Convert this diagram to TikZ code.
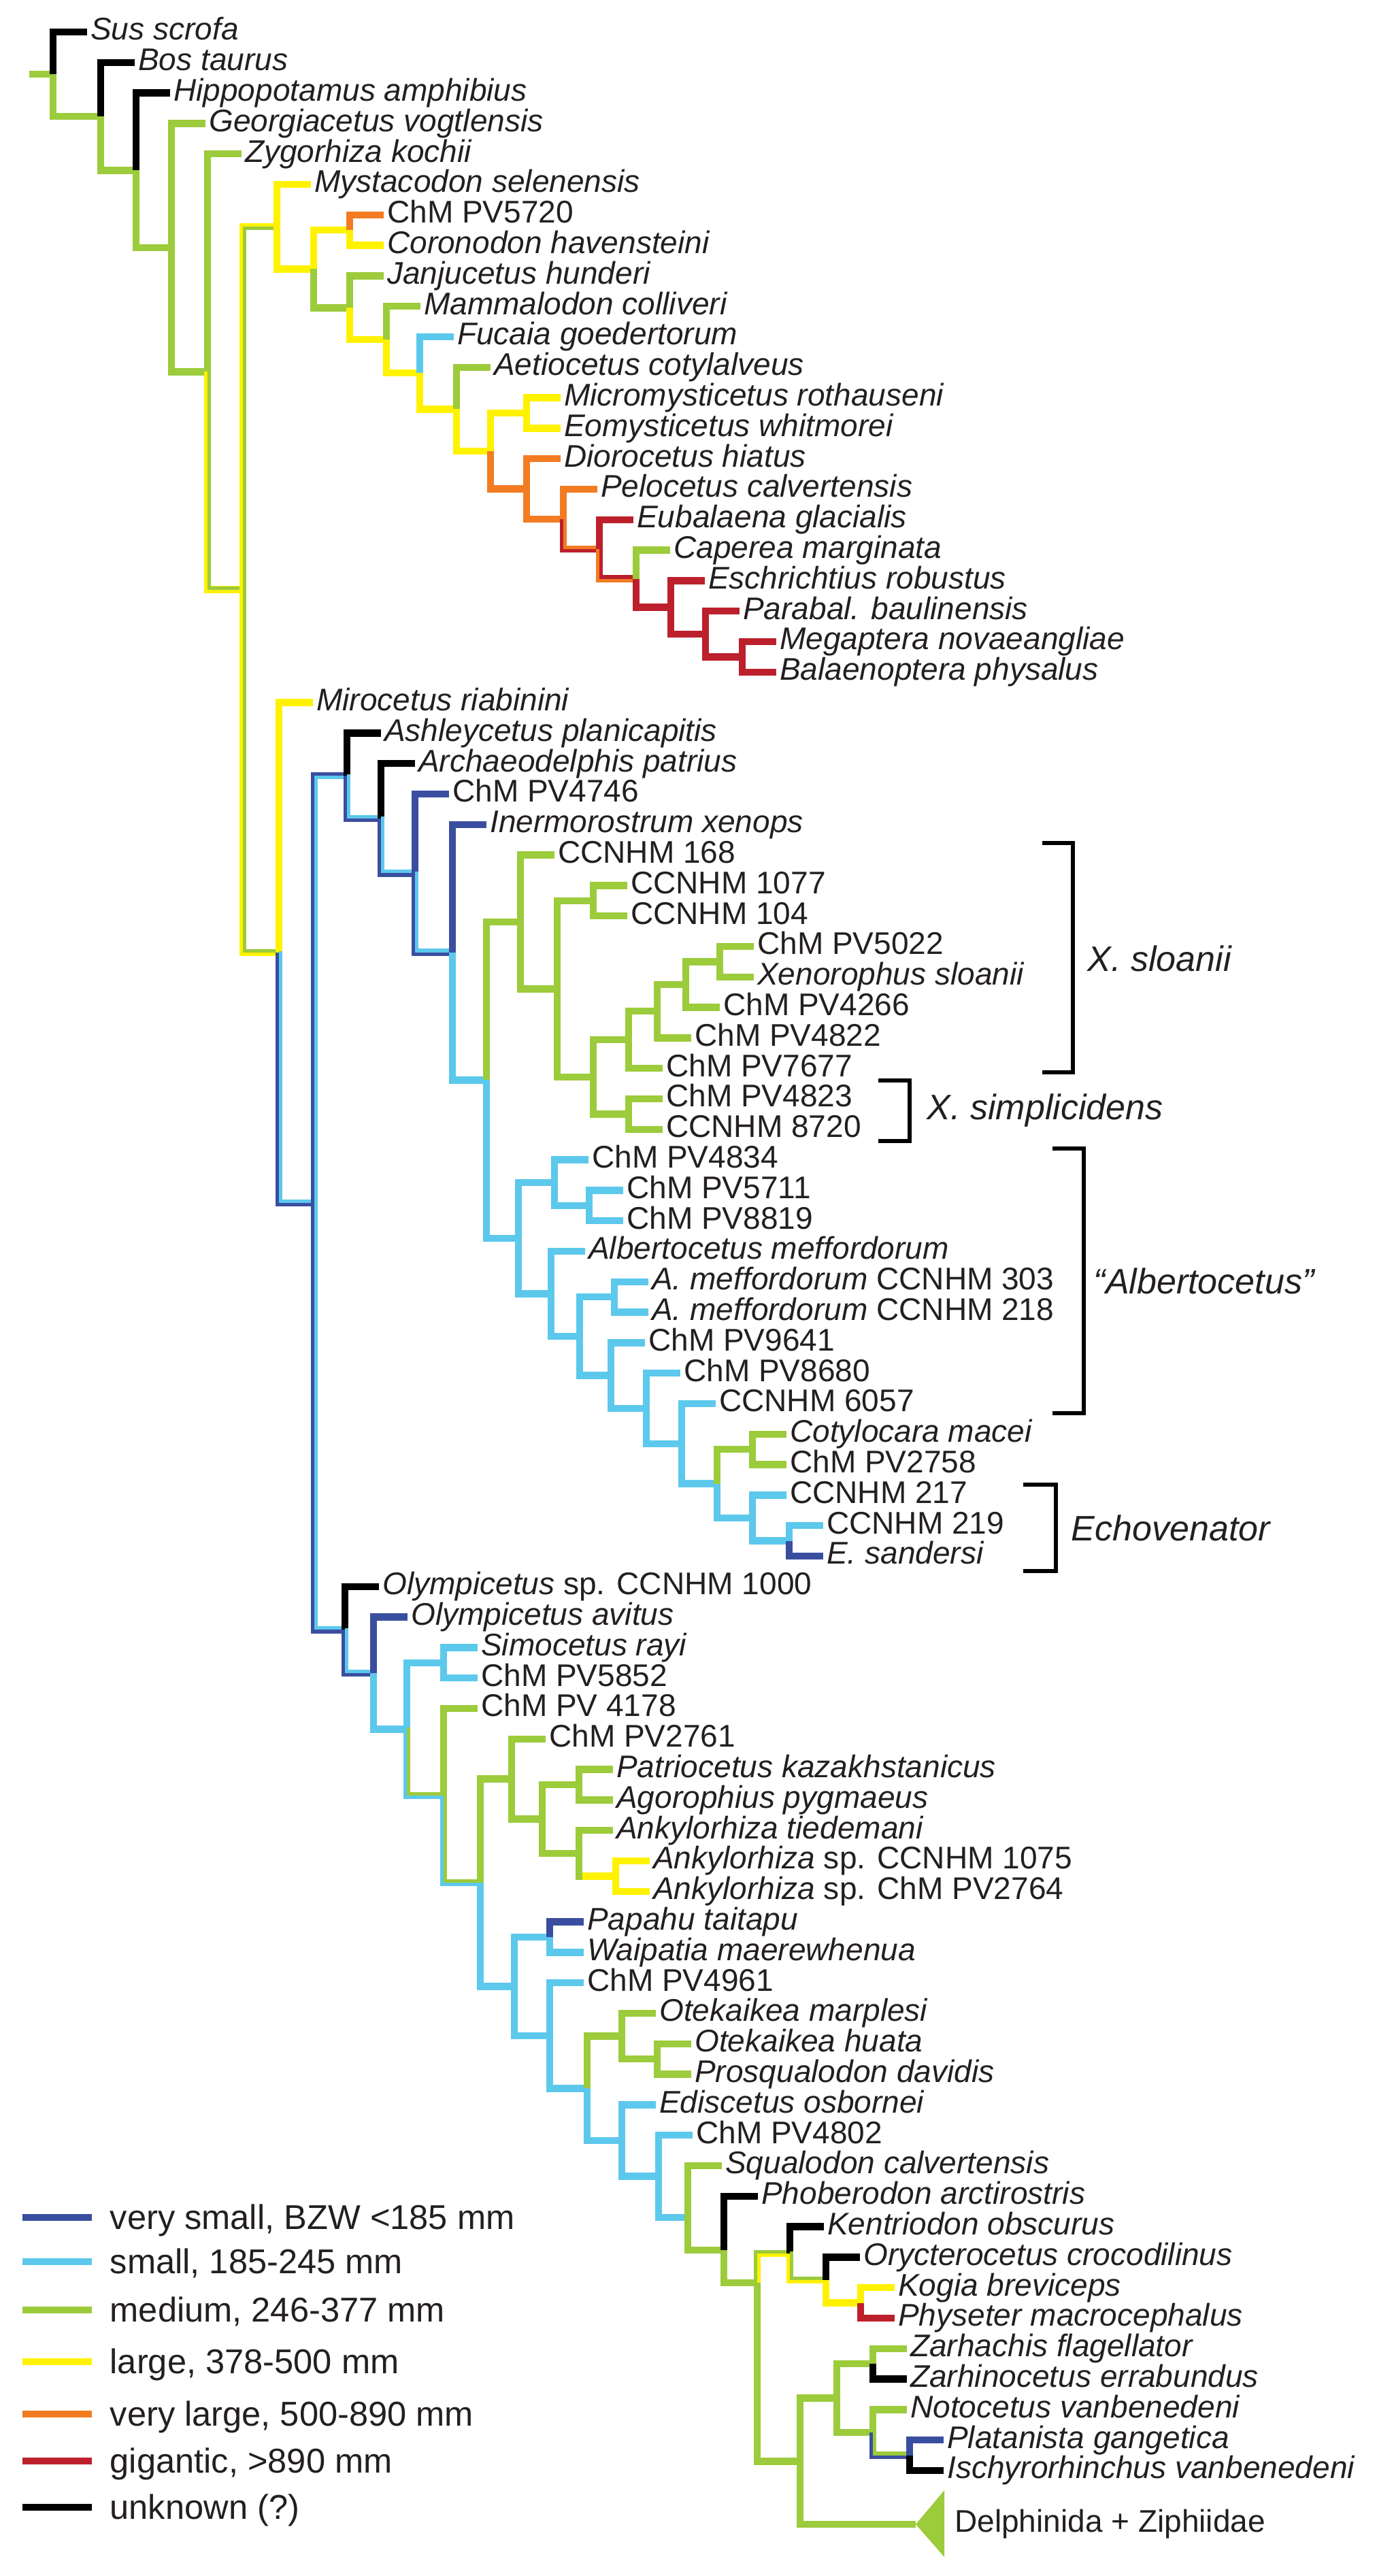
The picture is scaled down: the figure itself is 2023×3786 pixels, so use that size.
\documentclass[tikz,border=0pt]{standalone}
\usepackage{fontspec}
\setmainfont{Liberation Sans}
\definecolor{cdkblue}{RGB}{58,78,160}
\definecolor{cltblue}{RGB}{92,200,236}
\definecolor{cgreen}{RGB}{156,203,59}
\definecolor{cyellow}{RGB}{255,242,0}
\definecolor{corange}{RGB}{243,124,34}
\definecolor{cred}{RGB}{188,32,44}
\definecolor{cblack}{RGB}{0,0,0}
\definecolor{labgray}{RGB}{35,31,32}
\tikzset{
	branch/.style={line width=1.05mm, draw=#1},
	branchB/.style={line width=0.52mm, draw=#1},
	taxon/.style={anchor=west, inner xsep=0.45mm, inner ysep=0pt, text height=3.3mm, text depth=0.92mm, text=labgray, font=\fontsize{13.1}{15}\selectfont},
	cladelabel/.style={anchor=west, inner sep=0pt, text=labgray, font=\fontsize{14.8}{17}\selectfont\itshape},
	bracket/.style={line width=0.6mm, draw=black},
	legline/.style={line width=1mm, draw=#1},
	legtext/.style={anchor=west, inner sep=0pt, text height=3.6mm, text depth=0.2mm, text=labgray, font=\fontsize{14.4}{17}\selectfont},
}
\begin{document}
\begin{tikzpicture}[x=0.1mm,y=-0.1mm]
			\newcommand{\mybranch}[3]{
				\draw[branch=#1] (#2) |- (#3);
			}\newcommand{\myeqbranch}[5][2.6]{
				\draw[branch=#2] (#4) |- (#5);
				\draw[branchB=#3] ([shift={(2.6,#1)}]#4) |- ([shift={(2.6,#1)}]#5);
			}%Page
			\useasboundingbox (0,0) rectangle (2023,3786);
			%Outgroups and basilosaurids
			\node[taxon] (sus) at (128,47) {\textit{Sus scrofa}};
			\node[taxon] (bos) at (198,91.8) {\textit{Bos taurus}};
			\node[taxon] (hippo) at (250,136.6) {\textit{Hippopotamus amphibius}};
			\node[taxon] (georgia) at (302,181.4) {\textit{Georgiacetus vogtlensis}};
			\node[taxon] (zygo) at (355,226.2) {\textit{Zygorhiza kochii}};
			%Mysticeti
			\node[taxon] (mysta) at (457,271) {\textit{Mystacodon selenensis}};
			\node[taxon] (chm5720) at (564,315.8) {ChM PV5720};
			\node[taxon] (corono) at (564,360.6) {\textit{Coronodon havensteini}};
			\node[taxon] (janju) at (564,405.4) {\textit{Janjucetus hunderi}};
			\node[taxon] (mammal) at (618,450.2) {\textit{Mammalodon colliveri}};
			\node[taxon] (fucaia) at (667,495) {\textit{Fucaia goedertorum}};
			\node[taxon] (aetio) at (721,539.8) {\textit{Aetiocetus cotylalveus}};
			\node[taxon] (micro) at (824,584.6) {\textit{Micromysticetus rothauseni}};
			\node[taxon] (eomy) at (824,629.4) {\textit{Eomysticetus whitmorei}};
			\node[taxon] (dioro) at (824,674.2) {\textit{Diorocetus hiatus}};
			\node[taxon] (pelo) at (878,719) {\textit{Pelocetus calvertensis}};
			\node[taxon] (euba) at (931,763.8) {\textit{Eubalaena glacialis}};
			\node[taxon] (caper) at (985,808.6) {\textit{Caperea marginata}};
			\node[taxon] (eschr) at (1036,853.4) {\textit{Eschrichtius robustus}};
			\node[taxon] (parab) at (1087,898.2) {\textit{Parabal. baulinensis}};
			\node[taxon] (megap) at (1141,943) {\textit{Megaptera novaeangliae}};
			\node[taxon] (balae) at (1141,987.8) {\textit{Balaenoptera physalus}};
			%Stem odontocetes
			\node[taxon] (miro) at (460,1032.6) {\textit{Mirocetus riabinini}};
			\node[taxon] (ashley) at (560,1077.4) {\textit{Ashleycetus planicapitis}};
			\node[taxon] (archaeo) at (610,1122.2) {\textit{Archaeodelphis patrius}};
			\node[taxon] (chm4746) at (660,1167) {ChM PV4746};
			\node[taxon] (inermo) at (715,1211.8) {\textit{Inermorostrum xenops}};
			%Xenorophus
			\node[taxon] (cc168) at (815,1256.6) {CCNHM 168};
			\node[taxon] (cc1077) at (922,1301.4) {CCNHM 1077};
			\node[taxon] (cc104) at (922,1346.2) {CCNHM 104};
			\node[taxon] (chm5022) at (1108,1391) {ChM PV5022};
			\node[taxon] (xeno) at (1108,1435.8) {\textit{Xenorophus sloanii}};
			\node[taxon] (chm4266) at (1058,1480.6) {ChM PV4266};
			\node[taxon] (chm4822) at (1016,1525.4) {ChM PV4822};
			\node[taxon] (chm7677) at (974,1570.2) {ChM PV7677};
			\node[taxon] (chm4823) at (974,1615) {ChM PV4823};
			\node[taxon] (cc8720) at (974,1659.8) {CCNHM 8720};
			%Albertocetus and Echovenator
			\node[taxon] (chm4834) at (865,1704.6) {ChM PV4834};
			\node[taxon] (chm5711) at (916,1749.4) {ChM PV5711};
			\node[taxon] (chm8819) at (916,1794.2) {ChM PV8819};
			\node[taxon] (alberto) at (860,1839) {\textit{Albertocetus meffordorum}};
			\node[taxon] (am303) at (953,1883.8) {\textit{A. meffordorum} CCNHM 303};
			\node[taxon] (am218) at (953,1928.6) {\textit{A. meffordorum} CCNHM 218};
			\node[taxon] (chm9641) at (948,1973.4) {ChM PV9641};
			\node[taxon] (chm8680) at (1000,2018.2) {ChM PV8680};
			\node[taxon] (cc6057) at (1052,2063) {CCNHM 6057};
			\node[taxon] (cotylo) at (1156,2107.8) {\textit{Cotylocara macei}};
			\node[taxon] (chm2758) at (1156,2152.6) {ChM PV2758};
			\node[taxon] (cc217) at (1156,2197.4) {CCNHM 217};
			\node[taxon] (cc219) at (1210,2242.2) {CCNHM 219};
			\node[taxon] (esand) at (1210,2287) {\textit{E. sandersi}};
			%Olympicetus to Ankylorhiza
			\node[taxon] (olysp) at (557,2331.8) {\textit{Olympicetus} sp. CCNHM 1000};
			\node[taxon] (olyav) at (599,2376.6) {\textit{Olympicetus avitus}};
			\node[taxon] (simo) at (702,2421.4) {\textit{Simocetus rayi}};
			\node[taxon] (chm5852) at (702,2466.2) {ChM PV5852};
			\node[taxon] (chm4178) at (702,2511) {ChM PV 4178};
			\node[taxon] (chm2761) at (802,2555.8) {ChM PV2761};
			\node[taxon] (patrio) at (901,2600.6) {\textit{Patriocetus kazakhstanicus}};
			\node[taxon] (agoro) at (901,2645.4) {\textit{Agorophius pygmaeus}};
			\node[taxon] (anktied) at (901,2690.2) {\textit{Ankylorhiza tiedemani}};
			\node[taxon] (ank1075) at (955,2735) {\textit{Ankylorhiza} sp. CCNHM 1075};
			\node[taxon] (ank2764) at (955,2779.8) {\textit{Ankylorhiza} sp. ChM PV2764};
			%Crownward odontocetes
			\node[taxon] (papahu) at (858,2824.6) {\textit{Papahu taitapu}};
			\node[taxon] (waip) at (858,2869.4) {\textit{Waipatia maerewhenua}};
			\node[taxon] (chm4961) at (858,2914.2) {ChM PV4961};
			\node[taxon] (otekm) at (964,2959) {\textit{Otekaikea marplesi}};
			\node[taxon] (otekh) at (1016,3003.8) {\textit{Otekaikea huata}};
			\node[taxon] (prosq) at (1016,3048.6) {\textit{Prosqualodon davidis}};
			\node[taxon] (edisc) at (964,3093.4) {\textit{Ediscetus osbornei}};
			\node[taxon] (chm4802) at (1018,3138.2) {ChM PV4802};
			\node[taxon] (squal) at (1061,3183) {\textit{Squalodon calvertensis}};
			\node[taxon] (phober) at (1114,3227.8) {\textit{Phoberodon arctirostris}};
			\node[taxon] (kentr) at (1211,3272.6) {\textit{Kentriodon obscurus}};
			\node[taxon] (orycte) at (1264,3317.4) {\textit{Orycterocetus crocodilinus}};
			\node[taxon] (kogia) at (1315,3362.2) {\textit{Kogia breviceps}};
			\node[taxon] (physe) at (1315,3407) {\textit{Physeter macrocephalus}};
			\node[taxon] (zarhac) at (1333,3451.8) {\textit{Zarhachis flagellator}};
			\node[taxon] (zarhin) at (1333,3496.6) {\textit{Zarhinocetus errabundus}};
			\node[taxon] (notoc) at (1333,3541.4) {\textit{Notocetus vanbenedeni}};
			\node[taxon] (platan) at (1387,3586.2) {\textit{Platanista gangetica}};
			\node[taxon] (ischy) at (1387,3631) {\textit{Ischyrorhinchus vanbenedeni}};
			\node[taxon] (delph) at (1398,3710) {Delphinida + Ziphiidae};
			%Internal nodes, outgroups
			\coordinate (rootstub) at (43,109);
			\coordinate (root) at (78,109);
			\coordinate (n1) at (148,171);
			\coordinate (n2) at (200,250.3);
			\coordinate (n3) at (252,363.9);
			\coordinate (n4) at (305,546.4);
			\coordinate (n5) at (357,866.7);
			%Internal nodes, Mysticeti
			\coordinate (m1) at (407,333.1);
			\coordinate (m2) at (461,395.3);
			\coordinate (m3) at (514,338.2);
			\coordinate (m4) at (514,452.3);
			\coordinate (m5) at (568,499.2);
			\coordinate (m6) at (617,548.2);
			\coordinate (m7) at (671,601.3);
			\coordinate (m8) at (721,662.8);
			\coordinate (m9) at (774,607);
			\coordinate (m10) at (774,718.7);
			\coordinate (m11) at (828,763.1);
			\coordinate (m12) at (881,807.2);
			\coordinate (m13) at (935,850.6);
			\coordinate (m14) at (986,892.6);
			\coordinate (m15) at (1037,931.8);
			\coordinate (m16) at (1091,965.4);
			%Internal nodes, stem odontocetes
			\coordinate (o1) at (410,1400.2);
			\coordinate (o2) at (462,1767.8);
			\coordinate (o3) at (510,1140.1);
			\coordinate (o4) at (560,1202.8);
			\coordinate (o5) at (610,1283.3);
			\coordinate (o6) at (665,1399.6);
			\coordinate (o7) at (715,1587.4);
			\coordinate (x1) at (765,1355);
			\coordinate (x2) at (819,1453.3);
			\coordinate (x3) at (872,1323.8);
			\coordinate (x4) at (872,1582.8);
			\coordinate (x5) at (924,1528.2);
			\coordinate (x6) at (966,1486.2);
			\coordinate (x7) at (1008,1447);
			\coordinate (x8) at (1058,1413.4);
			\coordinate (x9) at (924,1637.4);
			\coordinate (a1) at (762,1819.9);
			\coordinate (a2) at (815,1738.2);
			\coordinate (a2b) at (866,1771.8);
			\coordinate (a3) at (810,1901.5);
			\coordinate (a4) at (852,1964);
			\coordinate (a5) at (903,1906.2);
			\coordinate (a6) at (898,2021.7);
			\coordinate (a7) at (950,2070);
			\coordinate (a8) at (1002,2121.8);
			\coordinate (a9) at (1054,2180.6);
			\coordinate (a10) at (1106,2130.2);
			\coordinate (a11) at (1106,2231);
			\coordinate (a12) at (1160,2264.6);
			%Internal nodes, lower part
			\coordinate (p1) at (507,2395.4);
			\coordinate (p2) at (549,2459);
			\coordinate (p3) at (598,2541.4);
			\coordinate (p4) at (652,2443.8);
			\coordinate (p5) at (652,2639);
			\coordinate (p6) at (706,2767);
			\coordinate (p7) at (752,2614.6);
			\coordinate (p8) at (797,2673.4);
			\coordinate (p9) at (851,2623);
			\coordinate (p10) at (851,2723.8);
			\coordinate (p10low) at (856,2757.4);
			\coordinate (p11) at (905,2757.4);
			\coordinate (q1) at (756,2919.4);
			\coordinate (q2) at (808,2847);
			\coordinate (q3) at (808,2991.8);
			\coordinate (q4) at (863,3069.3);
			\coordinate (q5) at (914,2992.6);
			\coordinate (q5b) at (966,3026.2);
			\coordinate (q6) at (914,3146);
			\coordinate (q7) at (968,3198.6);
			\coordinate (q8) at (1011,3259);
			\coordinate (q9) at (1064,3307);
			\coordinate (q10) at (1113,3355);
			\coordinate (q11) at (1161,3311.8);
			\coordinate (q12) at (1214,3351);
			\coordinate (q13) at (1265,3384.6);
			\coordinate (q15) at (1176,3617.3);
			\coordinate (q16) at (1230,3524.6);
			\coordinate (q17) at (1283,3474.2);
			\coordinate (q18) at (1283,3575);
			\coordinate (q19) at (1337,3608.6);
			\coordinate (deltip) at (1346,3710);
			%Branches, outgroups
			\draw[branch=cgreen] (rootstub) -- (root);
			\mybranch{cblack}{root}{sus.west}
			\mybranch{cgreen}{root}{n1}
			\mybranch{cblack}{n1}{bos.west}
			\mybranch{cgreen}{n1}{n2}
			\mybranch{cblack}{n2}{hippo.west}
			\mybranch{cgreen}{n2}{n3}
			\mybranch{cgreen}{n3}{georgia.west}
			\mybranch{cgreen}{n3}{n4}
			\mybranch{cgreen}{n4}{zygo.west}
			\myeqbranch[-2.6]{cyellow}{cgreen}{n4}{n5}
			\myeqbranch{cyellow}{cgreen}{n5}{m1}
			\myeqbranch[-2.6]{cyellow}{cgreen}{n5}{o1}
			%Branches, Mysticeti
			\mybranch{cyellow}{m1}{mysta.west}
			\mybranch{cyellow}{m1}{m2}
			\mybranch{cyellow}{m2}{m3}
			\mybranch{cgreen}{m2}{m4}
			\mybranch{corange}{m3}{chm5720.west}
			\mybranch{cyellow}{m3}{corono.west}
			\mybranch{cgreen}{m4}{janju.west}
			\mybranch{cyellow}{m4}{m5}
			\mybranch{cgreen}{m5}{mammal.west}
			\mybranch{cyellow}{m5}{m6}
			\mybranch{cltblue}{m6}{fucaia.west}
			\mybranch{cyellow}{m6}{m7}
			\mybranch{cgreen}{m7}{aetio.west}
			\mybranch{cyellow}{m7}{m8}
			\mybranch{cyellow}{m8}{m9}
			\mybranch{corange}{m8}{m10}
			\mybranch{cyellow}{m9}{micro.west}
			\mybranch{cyellow}{m9}{eomy.west}
			\mybranch{corange}{m10}{dioro.west}
			\mybranch{corange}{m10}{m11}
			\mybranch{corange}{m11}{pelo.west}
			\myeqbranch[-2.6]{cred}{corange}{m11}{m12}
			\mybranch{cred}{m12}{euba.west}
			\myeqbranch[-2.6]{corange}{cred}{m12}{m13}
			\mybranch{cgreen}{m13}{caper.west}
			\mybranch{cred}{m13}{m14}
			\mybranch{cred}{m14}{eschr.west}
			\mybranch{cred}{m14}{m15}
			\mybranch{cred}{m15}{parab.west}
			\mybranch{cred}{m15}{m16}
			\mybranch{cred}{m16}{megap.west}
			\mybranch{cred}{m16}{balae.west}
			%Branches, stem odontocetes
			\mybranch{cyellow}{o1}{miro.west}
			\myeqbranch[-2.6]{cdkblue}{cltblue}{o1}{o2}
			\myeqbranch{cdkblue}{cltblue}{o2}{o3}
			\myeqbranch[-2.6]{cdkblue}{cltblue}{o2}{p1}
			\mybranch{cblack}{o3}{ashley.west}
			\myeqbranch[-2.6]{cdkblue}{cltblue}{o3}{o4}
			\mybranch{cblack}{o4}{archaeo.west}
			\myeqbranch[-2.6]{cdkblue}{cltblue}{o4}{o5}
			\mybranch{cdkblue}{o5}{chm4746.west}
			\myeqbranch[-2.6]{cdkblue}{cltblue}{o5}{o6}
			\mybranch{cdkblue}{o6}{inermo.west}
			\mybranch{cltblue}{o6}{o7}
			\mybranch{cgreen}{o7}{x1}
			\mybranch{cltblue}{o7}{a1}
			%Branches, Xenorophus
			\mybranch{cgreen}{x1}{cc168.west}
			\mybranch{cgreen}{x1}{x2}
			\mybranch{cgreen}{x2}{x3}
			\mybranch{cgreen}{x2}{x4}
			\mybranch{cgreen}{x3}{cc1077.west}
			\mybranch{cgreen}{x3}{cc104.west}
			\mybranch{cgreen}{x4}{x5}
			\mybranch{cgreen}{x4}{x9}
			\mybranch{cgreen}{x5}{x6}
			\mybranch{cgreen}{x5}{chm7677.west}
			\mybranch{cgreen}{x6}{x7}
			\mybranch{cgreen}{x6}{chm4822.west}
			\mybranch{cgreen}{x7}{x8}
			\mybranch{cgreen}{x7}{chm4266.west}
			\mybranch{cgreen}{x8}{chm5022.west}
			\mybranch{cgreen}{x8}{xeno.west}
			\mybranch{cgreen}{x9}{chm4823.west}
			\mybranch{cgreen}{x9}{cc8720.west}
			%Branches, Albertocetus and Echovenator
			\mybranch{cltblue}{a1}{a2}
			\mybranch{cltblue}{a1}{a3}
			\mybranch{cltblue}{a2}{chm4834.west}
			\mybranch{cltblue}{a2}{a2b}
			\mybranch{cltblue}{a2b}{chm5711.west}
			\mybranch{cltblue}{a2b}{chm8819.west}
			\mybranch{cltblue}{a3}{alberto.west}
			\mybranch{cltblue}{a3}{a4}
			\mybranch{cltblue}{a4}{a5}
			\mybranch{cltblue}{a4}{a6}
			\mybranch{cltblue}{a5}{am303.west}
			\mybranch{cltblue}{a5}{am218.west}
			\mybranch{cltblue}{a6}{chm9641.west}
			\mybranch{cltblue}{a6}{a7}
			\mybranch{cltblue}{a7}{chm8680.west}
			\mybranch{cltblue}{a7}{a8}
			\mybranch{cltblue}{a8}{cc6057.west}
			\mybranch{cltblue}{a8}{a9}
			\mybranch{cgreen}{a9}{a10}
			\mybranch{cltblue}{a9}{a11}
			\mybranch{cgreen}{a10}{cotylo.west}
			\mybranch{cgreen}{a10}{chm2758.west}
			\mybranch{cltblue}{a11}{cc217.west}
			\mybranch{cltblue}{a11}{a12}
			\mybranch{cltblue}{a12}{cc219.west}
			\mybranch{cdkblue}{a12}{esand.west}
			%Branches, Olympicetus to Ankylorhiza
			\mybranch{cblack}{p1}{olysp.west}
			\myeqbranch[-2.6]{cdkblue}{cltblue}{p1}{p2}
			\mybranch{cdkblue}{p2}{olyav.west}
			\mybranch{cltblue}{p2}{p3}
			\mybranch{cltblue}{p3}{p4}
			\myeqbranch[-2.6]{cltblue}{cgreen}{p3}{p5}
			\mybranch{cltblue}{p4}{simo.west}
			\mybranch{cltblue}{p4}{chm5852.west}
			\mybranch{cgreen}{p5}{chm4178.west}
			\myeqbranch[-2.6]{cltblue}{cgreen}{p5}{p6}
			\mybranch{cgreen}{p6}{p7}
			\mybranch{cltblue}{p6}{q1}
			\mybranch{cgreen}{p7}{chm2761.west}
			\mybranch{cgreen}{p7}{p8}
			\mybranch{cgreen}{p8}{p9}
			\mybranch{cgreen}{p8}{p10}
			\mybranch{cgreen}{p9}{patrio.west}
			\mybranch{cgreen}{p9}{agoro.west}
			\mybranch{cgreen}{p10}{anktied.west}
			\mybranch{cgreen}{p10}{p10low}
			\draw[branch=cyellow] (p10low) -- (p11);
			\mybranch{cyellow}{p11}{ank1075.west}
			\mybranch{cyellow}{p11}{ank2764.west}
			%Branches, crownward odontocetes
			\mybranch{cltblue}{q1}{q2}
			\mybranch{cltblue}{q1}{q3}
			\mybranch{cdkblue}{q2}{papahu.west}
			\mybranch{cltblue}{q2}{waip.west}
			\mybranch{cltblue}{q3}{chm4961.west}
			\mybranch{cltblue}{q3}{q4}
			\mybranch{cgreen}{q4}{q5}
			\mybranch{cltblue}{q4}{q6}
			\mybranch{cgreen}{q5}{otekm.west}
			\mybranch{cgreen}{q5}{q5b}
			\mybranch{cgreen}{q5b}{otekh.west}
			\mybranch{cgreen}{q5b}{prosq.west}
			\mybranch{cltblue}{q6}{edisc.west}
			\mybranch{cltblue}{q6}{q7}
			\mybranch{cltblue}{q7}{chm4802.west}
			\mybranch{cltblue}{q7}{q8}
			\mybranch{cgreen}{q8}{squal.west}
			\mybranch{cgreen}{q8}{q9}
			\mybranch{cblack}{q9}{phober.west}
			\mybranch{cgreen}{q9}{q10}
			\myeqbranch{cgreen}{cyellow}{q10}{q11}
			\mybranch{cgreen}{q10}{q15}
			\mybranch{cblack}{q11}{kentr.west}
			\myeqbranch[-2.6]{cyellow}{cgreen}{q11}{q12}
			\mybranch{cblack}{q12}{orycte.west}
			\mybranch{cyellow}{q12}{q13}
			\mybranch{cyellow}{q13}{kogia.west}
			\mybranch{cred}{q13}{physe.west}
			\mybranch{cgreen}{q15}{q16}
			\mybranch{cgreen}{q15}{deltip}
			\mybranch{cgreen}{q16}{q17}
			\mybranch{cgreen}{q16}{q18}
			\mybranch{cgreen}{q17}{zarhac.west}
			\mybranch{cblack}{q17}{zarhin.west}
			\mybranch{cgreen}{q18}{notoc.west}
			\myeqbranch[-2.6]{cdkblue}{cgreen}{q18}{q19}
			\mybranch{cdkblue}{q19}{platan.west}
			\mybranch{cblack}{q19}{ischy.west}
			%Collapsed clade
			\fill[cgreen] (deltip) -- (1388,3660) -- (1388,3758) -- cycle;
			%Brackets
			\draw[bracket] (1532,1239) -| (1577,1576) -- (1532,1576);
			\node[cladelabel] (xsloanii) at (1598,1409) {X. sloanii};
			\draw[bracket] (1291,1588) -| (1337,1677) -- (1291,1677);
			\node[cladelabel] (xsimpl) at (1362,1632) {X. simplicidens};
			\draw[bracket] (1547,1688) -| (1593,2077) -- (1547,2077);
			\node[cladelabel] (albert) at (1607,1883) {“Albertocetus”};
			\draw[bracket] (1504,2182) -| (1552,2309) -- (1504,2309);
			\node[cladelabel] (echo) at (1574,2246) {Echovenator};
			%Legend
			\foreach \col/\yy/\txt in {cdkblue/3259/{very small, BZW <185 mm}, cltblue/3324/{small, 185-245 mm}, cgreen/3395/{medium, 246-377 mm}, cyellow/3471/{large, 378-500 mm}, corange/3548/{very large, 500-890 mm}, cred/3617/{gigantic, >890 mm}, cblack/3685/{unknown (?)}} {
				\draw[legline=\col] (33,\yy) -- (135,\yy);
				\node[legtext] (leg\col) at (161,\yy) {\txt};
			}
\end{tikzpicture}
\end{document}
